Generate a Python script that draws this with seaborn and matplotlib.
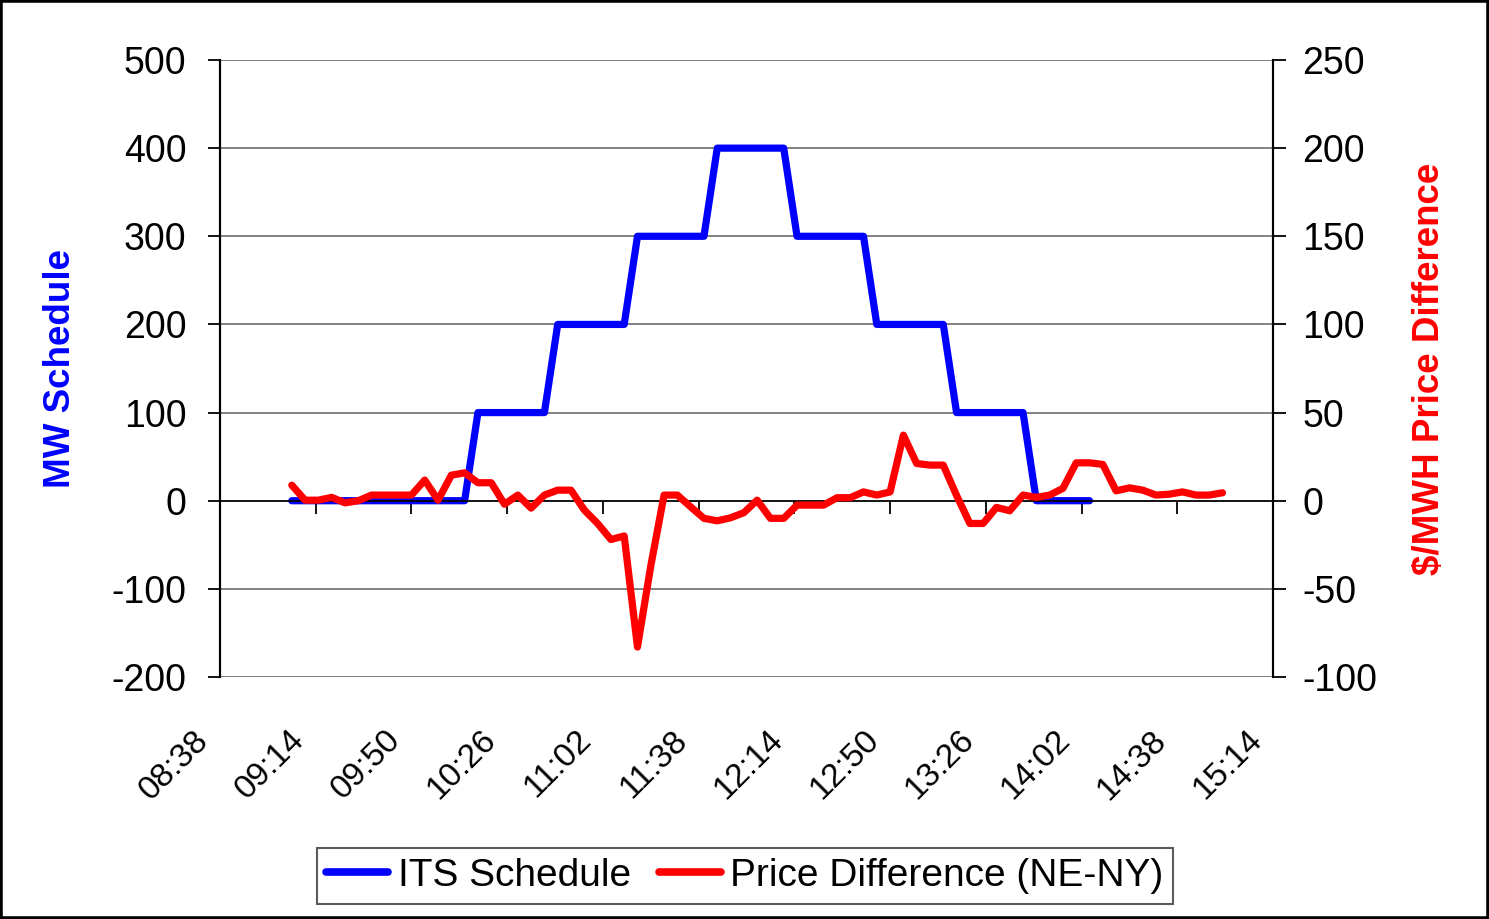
import numpy as np
import pandas as pd
import matplotlib
matplotlib.use('Agg')
import matplotlib.pyplot as plt
import matplotlib.dates as mdates
import matplotlib.transforms as mtransforms
from matplotlib.patches import Rectangle
import seaborn as sns

# 5-minute intervals starting 09:05
its_schedule = [0, 0, 0, 0, 0, 0, 0, 0, 0, 0, 0, 0, 0, 0,
                100, 100, 100, 100, 100, 100,
                200, 200, 200, 200, 200, 200,
                300, 300, 300, 300, 300, 300,
                400, 400, 400, 400, 400, 400,
                300, 300, 300, 300, 300, 300,
                200, 200, 200, 200, 200, 200,
                100, 100, 100, 100, 100, 100,
                0, 0, 0, 0, 0]

price_diff = [8.8, 0.3, 0.3, 1.9, -1.2, 0, 3.2, 3.2, 3.2, 3.2,
              11.7, 0.3, 14.5, 15.8, 10.2, 10.2, -2, 3.2, -4.2, 3.2,
              6, 6, -5.3, -12.9, -22, -20, -83, -37, 3.2, 3.2,
              -3.5, -10, -11.4, -9.7, -6.8, 0.3, -10, -10, -2.5, -2.5,
              -2.5, 1.7, 1.7, 5, 3.2, 5, 37.2, 21.1, 20.2, 20.2,
              3, -12.9, -12.9, -3.8, -5.7, 3.2, 1.9, 3.2, 7, 21.5,
              21.5, 20.6, 5.6, 7.3, 6, 3.2, 3.7, 5, 3.2, 3.2, 4.5]

start = pd.Timestamp('2008-01-01 09:05')
sched_df = pd.DataFrame({'time': pd.date_range(start, periods=len(its_schedule), freq='5min'),
                         'mw': its_schedule})
price_df = pd.DataFrame({'time': pd.date_range(start, periods=len(price_diff), freq='5min'),
                         'price': price_diff})
xticks = pd.date_range('2008-01-01 08:38', '2008-01-01 15:14', freq='36min')
xtick_labels = [t.strftime('%H:%M') for t in xticks]

sns.set_style('white')
plt.rcParams['font.family'] = ['Liberation Sans', 'DejaVu Sans']
plt.rcParams['axes.unicode_minus'] = False
plt.rcParams['text.color'] = 'black'
plt.rcParams['xtick.color'] = 'black'
plt.rcParams['ytick.color'] = 'black'

fig = plt.figure(figsize=(14.89, 9.19), dpi=100)
ax = fig.add_axes([220 / 1489, 1 - 677 / 919, 1053 / 1489, 617 / 919])
ax2 = ax.twinx()

sns.lineplot(data=sched_df, x='time', y='mw', ax=ax, color='#0000FF', lw=5.2,
             solid_capstyle='round', solid_joinstyle='round', label='ITS Schedule', legend=False)
sns.lineplot(data=price_df, x='time', y='price', ax=ax2, color='#FF0000', lw=5.2,
             solid_capstyle='round', solid_joinstyle='round', label='Price Difference (NE-NY)', legend=False)

ax.set_xlim(xticks[0], xticks[-1])
ax.set_ylim(-200, 500)
ax2.set_ylim(-100, 250)
ax.set_yticks(np.arange(-200, 501, 100))
ax2.set_yticks(np.arange(-100, 251, 50))
ax.set_xticks(xticks)

# gridlines (zero line drawn as the category axis)
for v in np.arange(-200, 501, 100):
    if v != 0:
        ax.axhline(v, color='#777777', lw=1.3, zorder=0)

for a in (ax, ax2):
    a.spines['top'].set_visible(False)
    a.spines['bottom'].set_visible(False)
    a.spines['left'].set_color('black')
    a.spines['right'].set_color('black')
    a.spines['left'].set_linewidth(1.5)
    a.spines['right'].set_linewidth(1.5)
ax.spines['bottom'].set_visible(True)
ax.spines['bottom'].set_position(('data', 0))
ax.spines['bottom'].set_color('black')
ax.spines['bottom'].set_linewidth(1.3)

ax.tick_params(axis='y', direction='out', length=9, width=1.3, color='black',
               labelcolor='black', labelsize=27, pad=15, left=True)
ax2.tick_params(axis='y', direction='out', length=9, width=1.3, color='black',
                labelcolor='black', labelsize=27, pad=12, right=True)
ax.tick_params(axis='x', direction='out', length=9, width=1.3, color='black',
               bottom=True, labelbottom=False)

# time labels sit below the plot area, rotated 45 degrees
label_trans = ax.get_xaxis_transform() + mtransforms.ScaledTranslation(-27 / 100, 0, fig.dpi_scale_trans)
for t, s in zip(xticks, xtick_labels):
    ax.text(mdates.date2num(t), -0.077, s, transform=label_trans, rotation=45,
            rotation_mode='anchor', ha='right', va='top', fontsize=24, color='black')

ax.set_xlabel('')
ax.set_ylabel('MW Schedule', color='#0000FF', fontsize=26.5, fontweight='bold')
ax2.set_ylabel('$/MWH Price Difference', color='#FF0000', fontsize=26.5, fontweight='bold')
ax.yaxis.set_label_coords(-0.135, 0.5)
ax2.yaxis.set_label_coords(1.132, 0.5)

handles = ax.get_lines()[:1] + ax2.get_lines()[:1]
leg = fig.legend(handles, ['ITS Schedule', 'Price Difference (NE-NY)'],
                 loc='center', bbox_to_anchor=(745 / 1489, 1 - 876 / 919),
                 ncol=2, fontsize=28, frameon=True, fancybox=False,
                 handlelength=1.6, handletextpad=0.25, columnspacing=0.7,
                 borderpad=0.25, borderaxespad=0)
leg.get_frame().set_edgecolor('#333333')
leg.get_frame().set_linewidth(1.5)
for h in leg.legend_handles:
    h.set_linewidth(5.5)

fig.patches.append(Rectangle((0, 0), 1, 1, transform=fig.transFigure, fill=False,
                             ec='black', lw=4))

fig.savefig('out.png', dpi=100, facecolor='white')
